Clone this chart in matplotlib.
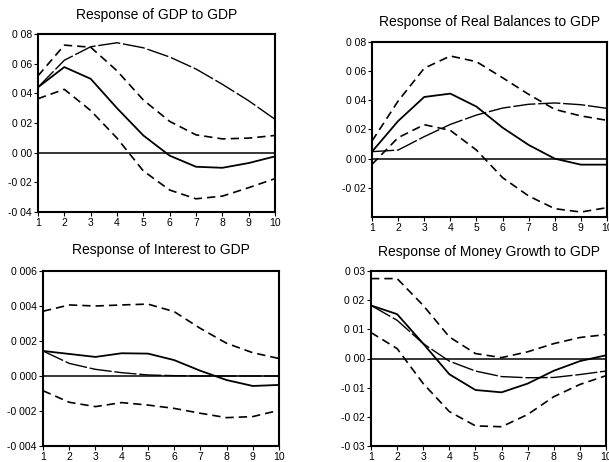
import matplotlib.pyplot as plt
import numpy as np

plt.rcParams['font.family'] = ['Liberation Sans', 'DejaVu Sans']

periods = np.arange(1, 11)

# GDP to GDP
gdp_resp = [0.0441, 0.0577, 0.0498, 0.0300, 0.0116, -0.0020, -0.0095, -0.0102, -0.0070, -0.0025]
gdp_hi = [0.0518, 0.0725, 0.0711, 0.0552, 0.0355, 0.0211, 0.0120, 0.0093, 0.0098, 0.0116]
gdp_lo = [0.0364, 0.0427, 0.0284, 0.0098, -0.0123, -0.0252, -0.0311, -0.0293, -0.0236, -0.0175]
gdp_alt = [0.0441, 0.0623, 0.0714, 0.0741, 0.0707, 0.0645, 0.0564, 0.0461, 0.0350, 0.0225]

# Real balances to GDP
rb_resp = [0.0048, 0.0258, 0.0423, 0.0446, 0.0357, 0.0213, 0.0094, 0.0000, -0.0041, -0.0041]
rb_hi = [0.0121, 0.0395, 0.0620, 0.0704, 0.0665, 0.0555, 0.0441, 0.0338, 0.0293, 0.0263]
rb_lo = [-0.0039, 0.0144, 0.0233, 0.0194, 0.0059, -0.0130, -0.0256, -0.0343, -0.0366, -0.0336]
rb_alt = [0.0048, 0.0059, 0.0151, 0.0235, 0.0299, 0.0347, 0.0373, 0.0382, 0.0370, 0.0345]

# Interest to GDP
int_resp = [0.00143, 0.00126, 0.00109, 0.00130, 0.00128, 0.00091, 0.00030, -0.00023, -0.00057, -0.00051]
int_hi = [0.00370, 0.00406, 0.00400, 0.00406, 0.00411, 0.00368, 0.00272, 0.00187, 0.00133, 0.00100]
int_lo = [-0.00084, -0.00150, -0.00175, -0.00152, -0.00166, -0.00185, -0.00213, -0.00238, -0.00232, -0.00196]
int_alt = [0.00143, 0.00072, 0.00038, 0.00019, 0.00006, 0.00002, 0.0, 0.0, 0.0, 0.0]

# Money growth to GDP
mg_resp = [0.0182, 0.0152, 0.0051, -0.0054, -0.0108, -0.0116, -0.0086, -0.0042, -0.0009, 0.0011]
mg_hi = [0.0274, 0.0274, 0.0182, 0.0074, 0.0017, 0.0003, 0.0023, 0.0051, 0.0072, 0.0082]
mg_lo = [0.0089, 0.0034, -0.0086, -0.0182, -0.0231, -0.0234, -0.0192, -0.0131, -0.0089, -0.0059]
mg_alt = [0.0182, 0.0131, 0.0051, -0.0009, -0.0043, -0.0062, -0.0066, -0.0065, -0.0055, -0.0043]

panels = [
    ("Response of GDP to GDP", [38, 275, 34, 212], 15,
     gdp_resp, gdp_hi, gdp_lo, gdp_alt, (-0.04, 0.08),
     [0.08, 0.06, 0.04, 0.02, 0.0, -0.02, -0.04],
     ["0 08", "0 06", "0 04", "0 02", "0 00", "-0 02", "-0 04"]),
    ("Response of Real Balances to GDP", [372, 607, 42, 217], 22,
     rb_resp, rb_hi, rb_lo, rb_alt, (-0.04, 0.08),
     [0.08, 0.06, 0.04, 0.02, 0.0, -0.02],
     ["0 08", "0 06", "0 04", "0 02", "0 00", "-0 02"]),
    ("Response of Interest to GDP", [43, 279, 271, 446], 250,
     int_resp, int_hi, int_lo, int_alt, (-0.004, 0.006),
     [0.006, 0.004, 0.002, 0.0, -0.002, -0.004],
     ["0 006", "0 004", "0 002", "0 000", "-0 002", "-0 004"]),
    ("Response of Money Growth to GDP", [371, 606, 271, 446], 252,
     mg_resp, mg_hi, mg_lo, mg_alt, (-0.03, 0.03),
     [0.03, 0.02, 0.01, 0.0, -0.01, -0.02, -0.03],
     ["0 03", "0 02", "0 01", "0 00", "-0 01", "-0 02", "-0 03"]),
]

W, H = 609, 462
fig = plt.figure(figsize=(W / 100, H / 100), dpi=100)

for title, (l, r, t, b), ty, resp, hi, lo, alt, ylim, yt, ytl in panels:
    ax = fig.add_axes([l / W, 1 - b / H, (r - l) / W, (b - t) / H])
    ax.axhline(0, color='black', lw=1.1)
    ax.plot(periods, resp, color='black', lw=1.3)
    ax.plot(periods, hi, color='black', lw=1.2, dashes=(5, 3))
    ax.plot(periods, lo, color='black', lw=1.2, dashes=(5, 3))
    ax.plot(periods, alt, color='black', lw=1.0, dashes=(16, 2))
    ax.set_xlim(1, 10)
    ax.set_ylim(*ylim)
    ax.set_xticks(periods)
    ax.set_yticks(yt)
    ax.set_yticklabels(ytl)
    ax.tick_params(direction='out', length=3, width=0.8, labelsize=7.5, pad=1.5)
    for s in ax.spines.values():
        s.set_linewidth(1.5)
    fig.text((l + r) / 2 / W, 1 - ty / H, title, ha='center', va='center', fontsize=10)

fig.savefig("out.png", dpi=100)
